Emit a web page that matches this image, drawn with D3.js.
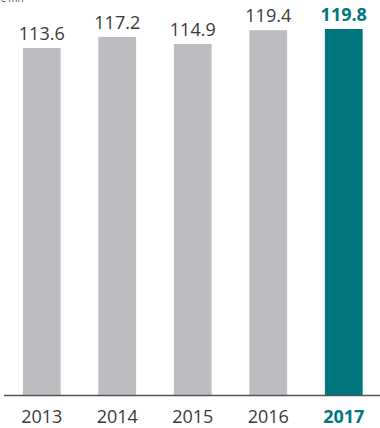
<!DOCTYPE html>
<html>
<head>
<meta charset="utf-8">
<script src="https://cdn.jsdelivr.net/npm/d3@7"></script>
<style>
  body { margin: 0; background: #fff; }
  svg { display: block; font-family: 'Open Sans', sans-serif; }
</style>
</head>
<body>
<svg id="chart" width="380" height="428"></svg>
<script>
const years = ['2013', '2014', '2015', '2016', '2017']
const values = [113.6, 117.2, 114.9, 119.4, 119.8]
const highlight = '2017'

const svg = d3.select('#chart')
const baseY = 395

const x = d3.scaleBand()
  .domain(years)
  .range([4, 381.5])
  .paddingInner(0.5)
  .paddingOuter(0.25)

const y = d3.scaleLinear()
  .domain([0, 119.8])
  .range([baseY, 29])

// unit caption, cut off at top edge
svg.append('text')
  .attr('x', 0)
  .attr('y', 2)
  .style('font-size', '10px')
  .style('fill', '#555')
  .text('€ mn')

svg.selectAll('rect.bar')
  .data(values)
  .enter().append('rect')
  .attr('class', 'bar')
  .attr('x', (d, i) => x(years[i]))
  .attr('width', x.bandwidth())
  .attr('y', (d) => y(d))
  .attr('height', (d) => baseY - y(d))
  .style('fill', (d, i) => years[i] === highlight ? '#00777e' : '#bcbdc0')

svg.selectAll('text.val')
  .data(values)
  .enter().append('text')
  .attr('class', 'val')
  .attr('x', (d, i) => x(years[i]) + x.bandwidth() / 2)
  .attr('y', (d) => y(d) - 8)
  .style('text-anchor', 'middle')
  .style('font-size', '18px')
  .style('font-weight', (d, i) => years[i] === highlight ? 700 : 400)
  .style('fill', (d, i) => years[i] === highlight ? '#00777e' : '#3a3a3a')
  .text((d) => d.toFixed(1))

const axis = d3.axisBottom(x).tickSize(0).tickPadding(15)
const g = svg.append('g')
  .attr('transform', `translate(0,${baseY})`)
  .call(axis)
g.select('.domain')
  .attr('d', `M4,0.5H380`)
  .style('stroke', '#555')
  .style('stroke-width', 1.3)
g.selectAll('.tick text')
  .style('font-family', "'Open Sans', sans-serif")
  .style('font-size', '18px')
  .style('font-weight', (d) => d === highlight ? 700 : 400)
  .style('fill', (d) => d === highlight ? '#00777e' : '#3a3a3a')
</script>
</body>
</html>
